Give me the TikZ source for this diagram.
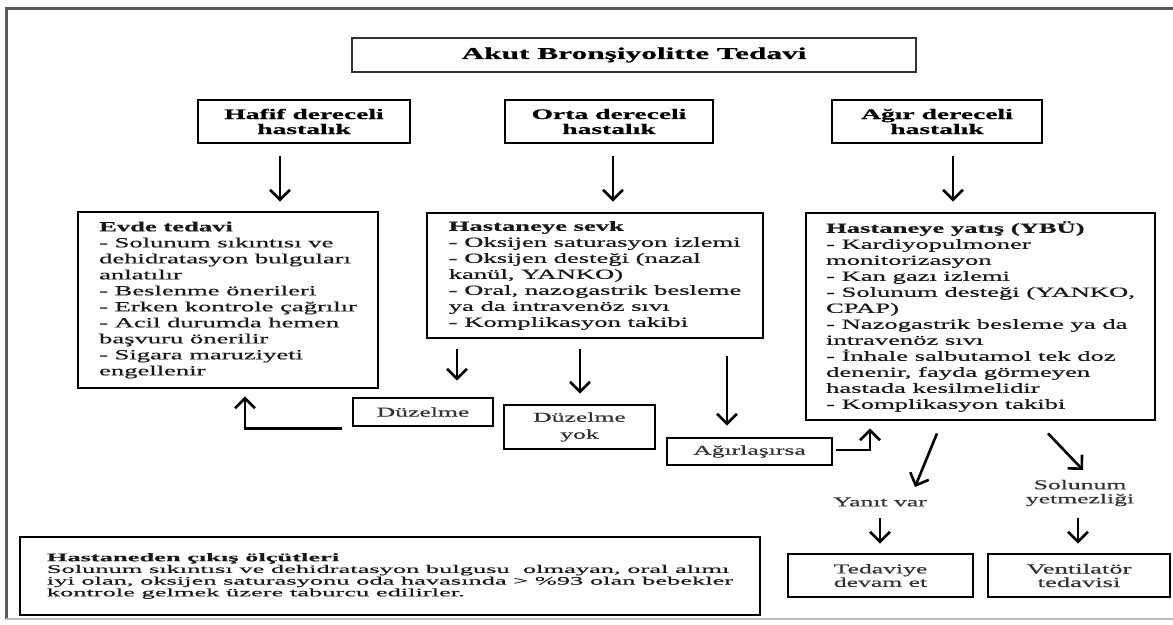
\documentclass[tikz,border=0pt]{standalone}
\usepackage{fontspec}
\setmainfont{Liberation Serif}[FakeStretch=1.9,FakeBold=0.7]
\newfontfamily\widefont{Liberation Serif}[FakeStretch=2.3,FakeBold=0.6]
\newcommand\nolsk{\lineskiplimit=-20pt\relax}
\usetikzlibrary{arrows.meta}
\begin{document}
\begin{tikzpicture}[x=1pt,y=-1pt,
  box/.style={draw=black, line width=2.8pt, inner sep=0pt, align=left, text=black!90},
  cbox/.style={draw=black, line width=2.8pt, inner sep=0pt, align=center, text=black!80},
  lbl/.style={inner sep=0pt, align=center, text=black!80},
  body/.style={font=\fontsize{14}{16}\selectfont},
  small/.style={font=\fontsize{13.5}{14}\selectfont\nolsk},
  sev/.style={font=\bfseries\fontsize{14.5}{15}\selectfont\nolsk, text=black},
  arr/.style={line width=2.6pt, -{Straight Barb[length=10pt,width=20pt]}}
]
\useasboundingbox (0,0) rectangle (1173,624);
% outer frame
\draw[black!65, line width=3pt] (1190,8) -- (6,8) -- (6,619);
\draw[black!25, line width=1.5pt] (6,619) -- (1190,619);

% title
\node[cbox, draw=black!80, line width=2.5pt, minimum width=564, minimum height=34, font=\bfseries\fontsize{16.5}{18}\selectfont, text=black] (title) at (634,55) {Akut Bronşiyolitte Tedavi};

% severity boxes
\node[cbox, sev, minimum width=212, minimum height=43] (hafif) at (304,121.5) {Hafif dereceli\\hastalık};
\node[cbox, sev, minimum width=208, minimum height=43] (orta) at (609,121.5) {Orta dereceli\\hastalık};
\node[cbox, sev, minimum width=210, minimum height=43] (agir) at (937,121.5) {Ağır dereceli\\hastalık};

% treatment boxes
\node[box, body, minimum width=300, minimum height=176] (evde) at (228,300) {\textbf{Evde tedavi}\\
- Solunum sıkıntısı ve\\
dehidratasyon bulguları\\
anlatılır\\
- Beslenme önerileri\\
- Erken kontrole çağrılır\\
- Acil durumda hemen\\
başvuru önerilir\\
- Sigara maruziyeti\\
engellenir};

\node[box, body, minimum width=336, minimum height=125] (sevk) at (595,275.5) {\textbf{Hastaneye sevk}\\
- Oksijen saturasyon izlemi\\
- Oksijen desteği (nazal\\
kanül, YANKO)\\
- Oral, nazogastrik besleme\\
ya da intravenöz sıvı\\
- Komplikasyon takibi};

\node[box, body, minimum width=349, minimum height=207] (ybu) at (980.5,316.5) {\textbf{Hastaneye yatış (YBÜ)}\\
- Kardiyopulmoner\\
monitorizasyon\\
- Kan gazı izlemi\\
- Solunum desteği (YANKO,\\
CPAP)\\
- Nazogastrik besleme ya da\\
intravenöz sıvı\\
- İnhale salbutamol tek doz\\
denenir, fayda görmeyen\\
hastada kesilmelidir\\
- Komplikasyon takibi};

% outcome boxes
\node[cbox, small, minimum width=140, minimum height=28] (duz) at (423,412) {Düzelme};
\node[cbox, minimum width=151, minimum height=44, font=\fontsize{13.5}{17}\selectfont] (duzyok) at (579.5,427) {Düzelme\\yok};
\node[cbox, small, minimum width=165, minimum height=27] (agr) at (749.5,451.5) {Ağırlaşırsa};

\node[lbl, small] (yanit) at (880,502) {Yanıt var};
\node[lbl, small] (solun) at (1080,493) {Solunum\\yetmezliği};

\node[cbox, minimum width=185, minimum height=43, font=\fontsize{13.5}{13.5}\selectfont\nolsk] (ted) at (880.5,575.5) {Tedaviye\\devam et};
\node[cbox, minimum width=182, minimum height=43, font=\fontsize{14}{13.5}\selectfont\nolsk] (vent) at (1079,575.5) {Ventilatör\\tedavisi};

% discharge criteria
\node[box, minimum width=740, minimum height=78, font=\widefont\fontsize{11.5}{11.7}\selectfont\nolsk] (hast) at (390,576) {\textbf{Hastaneden çıkış ölçütleri}\\
Solunum sıkıntısı ve dehidratasyon bulgusu\ \ olmayan, oral alımı\\
iyi olan, oksijen saturasyonu oda havasında > \%93 olan bebekler\\
kontrole gelmek üzere taburcu edilirler.};

% arrows
\draw[arr] ([xshift=-24pt,yshift=-12pt]hafif.south) -- ([xshift=52pt,yshift=9pt]evde.north);
\draw[arr] ([xshift=4pt,yshift=-12pt]orta.south) -- ([xshift=18pt,yshift=10pt]sevk.north);
\draw[arr] ([xshift=16pt,yshift=-12pt]agir.south) -- ([xshift=-27.5pt,yshift=10pt]ybu.north);

\draw[arr] ([xshift=-138pt,yshift=-10pt]sevk.south) -- ([xshift=34pt,yshift=16pt]duz.north);
\draw[arr] ([xshift=-15pt,yshift=-10pt]sevk.south) -- ([xshift=0.5pt,yshift=10pt]duzyok.north);
\draw[arr] ([xshift=132pt,yshift=-17pt]sevk.south) -- ([xshift=-22.5pt,yshift=11pt]agr.north);

\draw[arr] ([xshift=-10pt,yshift=-1pt]duz.south west) -| ([xshift=17pt,yshift=-7pt]evde.south);
\draw[arr] ([xshift=3pt,yshift=1.5pt]agr.east) -| ([xshift=-110.5pt,yshift=-7pt]ybu.south);

\draw[arr] ([xshift=-43.5pt,yshift=-12pt]ybu.south) -- ([xshift=35pt,yshift=15pt]yanit.center);
\draw[arr] ([xshift=67.5pt,yshift=-12pt]ybu.south) -- ([xshift=3pt,yshift=23pt]solun.center);

\draw[arr] ([yshift=-16pt]yanit.center) -- ([xshift=-0.5pt,yshift=9pt]ted.north);
\draw[arr] ([xshift=-2pt,yshift=-25pt]solun.center) -- ([xshift=-1pt,yshift=9pt]vent.north);
\end{tikzpicture}
\end{document}
